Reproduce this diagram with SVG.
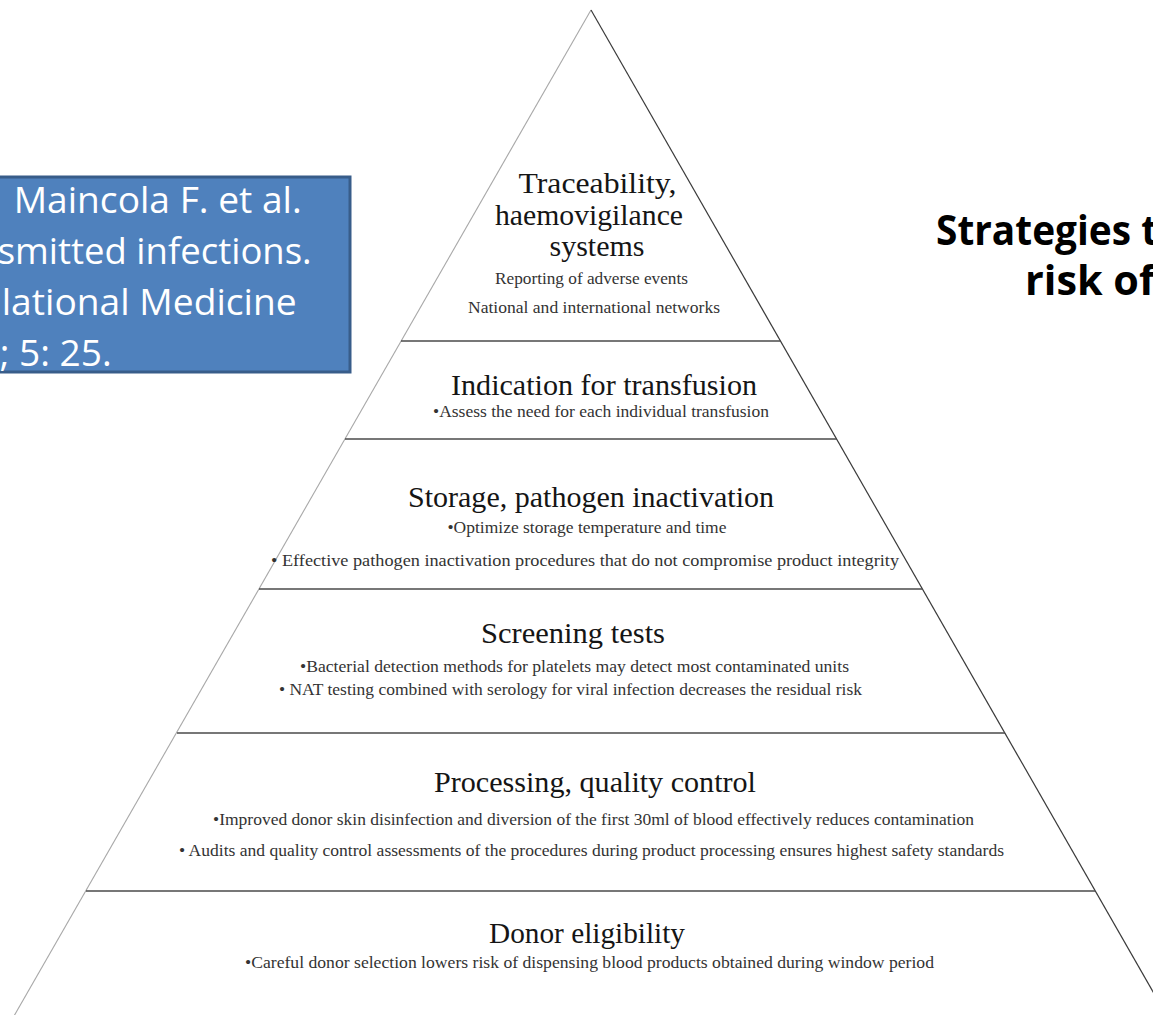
<svg xmlns="http://www.w3.org/2000/svg" width="1153" height="1015" viewBox="0 0 1153 1015">
  <style>
    .edge-l { stroke: #a8a8a8; stroke-width: 1.1; fill: none; }
    .edge-r { stroke: #3a3a3a; stroke-width: 1.2; fill: none; }
    .tier-line { stroke: #4a4a4a; stroke-width: 1.6; fill: none; }
    .head { font-family: "Liberation Serif", "Times New Roman", serif; font-size: 30px; fill: #151515; text-anchor: middle; }
    .sub { font-family: "Liberation Serif", "Times New Roman", serif; font-size: 17px; fill: #333333; text-anchor: middle; }
    .ref { font-family: "Open Sans", "Liberation Sans", sans-serif; font-size: 37px; fill: #ffffff; text-anchor: end; }
    .title { font-family: "Open Sans", "Liberation Sans", sans-serif; font-size: 41px; font-weight: bold; fill: #000000; }
  </style>

  <rect x="0" y="0" width="1153" height="1015" fill="#ffffff"/>

  <!-- pyramid outline -->
  <g id="pyramid-outline">
    <line class="edge-l" x1="591" y1="10" x2="14" y2="1016"/>
    <line class="edge-r" x1="591" y1="10" x2="1168" y2="1018"/>
  </g>

  <!-- tier dividers -->
  <g id="tier-dividers">
    <line class="tier-line" x1="401" y1="341" x2="780" y2="341"/>
    <line class="tier-line" x1="345" y1="439" x2="837" y2="439"/>
    <line class="tier-line" x1="259" y1="589" x2="922" y2="589"/>
    <line class="tier-line" x1="177" y1="733" x2="1005" y2="733"/>
    <line class="tier-line" x1="86" y1="891" x2="1095" y2="891"/>
  </g>

  <!-- tier 1: apex -->
  <g id="tier-traceability">
    <text class="head" x="597.5" y="193" textLength="158" lengthAdjust="spacingAndGlyphs">Traceability,</text>
    <text class="head" x="589" y="225" textLength="188" lengthAdjust="spacingAndGlyphs">haemovigilance</text>
    <text class="head" x="597" y="256">systems</text>
    <text class="sub" x="591.5" y="284" textLength="193" lengthAdjust="spacingAndGlyphs">Reporting of adverse events</text>
    <text class="sub" x="594" y="313" textLength="252" lengthAdjust="spacingAndGlyphs">National and international networks</text>
  </g>

  <!-- tier 2 -->
  <g id="tier-indication">
    <text class="head" x="604" y="395" textLength="306" lengthAdjust="spacingAndGlyphs">Indication for transfusion</text>
    <text class="sub" x="601" y="417" textLength="336" lengthAdjust="spacingAndGlyphs">•Assess the need for each individual transfusion</text>
  </g>

  <!-- tier 3 -->
  <g id="tier-storage">
    <text class="head" x="591" y="507" textLength="366" lengthAdjust="spacingAndGlyphs">Storage, pathogen inactivation</text>
    <text class="sub" x="587" y="533" textLength="279" lengthAdjust="spacingAndGlyphs">•Optimize storage temperature and time</text>
    <text class="sub" x="585" y="566" textLength="628" lengthAdjust="spacingAndGlyphs">• Effective pathogen inactivation procedures that do not compromise product integrity</text>
  </g>

  <!-- tier 4 -->
  <g id="tier-screening">
    <text class="head" x="573" y="643" textLength="184" lengthAdjust="spacingAndGlyphs">Screening tests</text>
    <text class="sub" x="574.5" y="672" textLength="549" lengthAdjust="spacingAndGlyphs">•Bacterial detection methods for platelets may detect most contaminated units</text>
    <text class="sub" x="570.5" y="695" textLength="583" lengthAdjust="spacingAndGlyphs">• NAT testing combined with serology for viral infection decreases the residual risk</text>
  </g>

  <!-- tier 5 -->
  <g id="tier-processing">
    <text class="head" x="595" y="792" textLength="322" lengthAdjust="spacingAndGlyphs">Processing, quality control</text>
    <text class="sub" x="593.5" y="825" textLength="761" lengthAdjust="spacingAndGlyphs">•Improved donor skin disinfection and diversion of the first 30ml of blood effectively reduces contamination</text>
    <text class="sub" x="591.5" y="856" textLength="825" lengthAdjust="spacingAndGlyphs">• Audits and quality control assessments of the procedures during product processing ensures highest safety standards</text>
  </g>

  <!-- tier 6: base -->
  <g id="tier-donor">
    <text class="head" x="587" y="943" textLength="196" lengthAdjust="spacingAndGlyphs">Donor eligibility</text>
    <text class="sub" x="589.5" y="968" textLength="689" lengthAdjust="spacingAndGlyphs">•Careful donor selection lowers risk of dispensing blood products obtained during window period</text>
  </g>

  <!-- citation box -->
  <g id="citation-box">
    <rect x="-20" y="177" width="370" height="195" fill="#4f81bd" stroke="#385d8a" stroke-width="3"/>
    <text class="ref" x="301.7" y="213" textLength="288" lengthAdjust="spacingAndGlyphs">Maincola F. et al.</text>
    <text class="ref" x="311.7" y="264" textLength="314" lengthAdjust="spacingAndGlyphs">smitted infections.</text>
    <text class="ref" x="296.7" y="315" textLength="295" lengthAdjust="spacingAndGlyphs">lational Medicine</text>
    <text class="ref" x="111.7" y="366" textLength="112" lengthAdjust="spacingAndGlyphs">; 5: 25.</text>
  </g>

  <!-- heading at right -->
  <g id="title">
    <text class="title" x="936" y="245" textLength="222" lengthAdjust="spacingAndGlyphs">Strategies t</text>
    <text class="title" x="1025" y="295" textLength="130" lengthAdjust="spacingAndGlyphs">risk of</text>
  </g>
</svg>
